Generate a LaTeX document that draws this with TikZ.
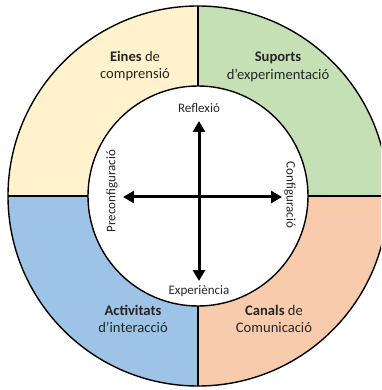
\documentclass[tikz,border=0pt]{standalone}
\usepackage{fontspec}
\setmainfont{Carlito}
\usetikzlibrary{arrows.meta}
\definecolor{qyel}{HTML}{FFF2CC}
\definecolor{qgrn}{HTML}{C5E0B4}
\definecolor{qblu}{HTML}{9DC3E6}
\definecolor{qorg}{HTML}{F8CBAD}
\definecolor{txt}{HTML}{262626}
\tikzset{
  quadlabel/.style={align=center, text=txt, font=\fontsize{14.6}{17.5}\selectfont, inner sep=0pt},
  axislabel/.style={text=txt, font=\fontsize{13}{15}\selectfont, inner sep=0pt},
  ringline/.style={draw=black, line width=1.4pt},
  axisarrow/.style={line width=3pt, {Triangle[length=11pt,width=12pt]}-{Triangle[length=11pt,width=12pt]}}
}
\begin{document}
\begin{tikzpicture}[x=1pt,y=1pt]
\useasboundingbox (-198,-194) rectangle (183,196);
\clip (-198,-194) rectangle (183,196);
\fill[white] (-198,-194) rectangle (183,196);
% quadrant ring sectors
\fill[qgrn] (0:110) -- (0:190) arc[start angle=0,end angle=90,radius=190] -- (90:110) arc[start angle=90,end angle=0,radius=110] -- cycle;
\fill[qyel] (90:110) -- (90:190) arc[start angle=90,end angle=180,radius=190] -- (180:110) arc[start angle=180,end angle=90,radius=110] -- cycle;
\fill[qblu] (180:110) -- (180:190) arc[start angle=180,end angle=270,radius=190] -- (270:110) arc[start angle=270,end angle=180,radius=110] -- cycle;
\fill[qorg] (270:110) -- (270:190) arc[start angle=270,end angle=360,radius=190] -- (360:110) arc[start angle=360,end angle=270,radius=110] -- cycle;
% outlines
\draw[ringline] (0,0) circle[radius=190];
\draw[ringline] (0,0) circle[radius=110];
\draw[ringline] (90:110) -- (90:190);
\draw[ringline] (180:110) -- (180:190);
\draw[ringline] (270:110) -- (270:190);
\draw[ringline] (0:110) -- (0:190);
% quadrant labels
\node[quadlabel] (eines) at (-63,130) {\textbf{Eines} de\\comprensió};
\node[quadlabel] (suports) at (80,129) {\textbf{Suports}\\d’experimentació};
\node[quadlabel] (activ) at (-65,-123) {\textbf{Activitats}\\d’interacció};
\node[quadlabel] (canals) at (76,-123) {\textbf{Canals} de\\Comunicació};
% axis labels
\node[axislabel] (refl) at (1,88) {Reflexió};
\node[axislabel] (exper) at (1,-95) {Experiència};
\node[axislabel, rotate=90] (preconf) at (-86,5) {Preconfiguració};
\node[axislabel, rotate=-90] (conf) at (92,1) {Configuració};
% arrows
\coordinate (atop) at (1,75);
\coordinate (abot) at (1,-85);
\coordinate (aleft) at (-75,-1);
\coordinate (aright) at (84,-1);
\draw[axisarrow] (abot) -- (atop);
\draw[axisarrow] (aleft) -- (aright);
\end{tikzpicture}
\end{document}
